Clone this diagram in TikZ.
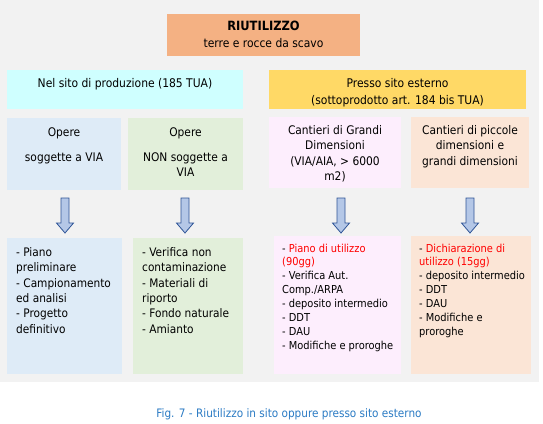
\documentclass[tikz,border=0pt]{standalone}
\usepackage{fontspec}
\setmainfont{DejaVu Sans Condensed}
\usetikzlibrary{calc}
\definecolor{bggray}{HTML}{F2F2F2}
\definecolor{topfill}{HTML}{F4B183}
\definecolor{cyanfill}{HTML}{CFFFFF}
\definecolor{yellowfill}{HTML}{FFD966}
\definecolor{bluefill}{HTML}{DEEBF7}
\definecolor{greenfill}{HTML}{E2EFDA}
\definecolor{pinkfill}{HTML}{FDEEFD}
\definecolor{peachfill}{HTML}{FBE5D6}
\definecolor{arrowfill}{HTML}{B4C7E7}
\definecolor{arrowline}{HTML}{2F5597}
\definecolor{captionblue}{HTML}{2B7BC4}
\definecolor{redtext}{HTML}{FF0000}
\begin{document}
\begin{tikzpicture}[x=1bp,y=-1bp,
  box/.style={rectangle, draw=none, inner sep=0pt, anchor=north west},
  hdrtext/.style={inner sep=0pt, anchor=north, align=center, font=\fontsize{12}{17}\selectfont},
  midtext/.style={inner sep=0pt, anchor=north, align=center, font=\fontsize{11.9}{15.2}\selectfont},
  listtext/.style={inner sep=0pt, anchor=north west, align=left, font=\fontsize{11.8}{15.5}\selectfont},
  listtextb/.style={inner sep=0pt, anchor=north west, align=left, font=\fontsize{11}{14}\selectfont},
  blockarrow/.style={fill=arrowfill, draw=arrowline, line width=0.8bp, line join=miter}
]
\useasboundingbox (0,0) rectangle (543,423);
\fill[white] (0,0) rectangle (543,423);
\fill[bggray] (0,0) rectangle (539,382);

% boxes
\node[box, fill=topfill, minimum width=193bp, minimum height=42bp] (top) at (167,14) {};
\node[box, fill=cyanfill, minimum width=236bp, minimum height=39bp] (hl) at (7,70) {};
\node[box, fill=yellowfill, minimum width=257bp, minimum height=39bp] (hr) at (269,70) {};
\node[box, fill=bluefill, minimum width=114bp, minimum height=72bp] (b1) at (7,118) {};
\node[box, fill=greenfill, minimum width=115bp, minimum height=72bp] (b2) at (128,118) {};
\node[box, fill=pinkfill, minimum width=132bp, minimum height=71bp] (b3) at (269,117) {};
\node[box, fill=peachfill, minimum width=118bp, minimum height=71bp] (b4) at (411,117) {};
\node[box, fill=bluefill, minimum width=115bp, minimum height=136bp] (c1) at (7,238) {};
\node[box, fill=greenfill, minimum width=110bp, minimum height=136bp] (c2) at (133,238) {};
\node[box, fill=pinkfill, minimum width=127bp, minimum height=138bp] (c3) at (274,236) {};
\node[box, fill=peachfill, minimum width=120bp, minimum height=138bp] (c4) at (411,236) {};

% texts
\node[hdrtext] (toptxt) at (263.5,20.5) {{\fontsize{12.8}{17}\selectfont\textbf{RIUTILIZZO}}\\terre e rocce da scavo};
\node[hdrtext] (hltxt) at (125,78) {Nel sito di produzione (185 TUA)};
\node[hdrtext] (hrtxt) at (397.5,78) {Presso sito esterno\\(sottoprodotto art. 184 bis TUA)};
\node[midtext] (b1txt) at (64,127.5) {Opere\\[9.8bp]soggette a VIA};
\node[midtext] (b2txt) at (185.5,127.5) {Opere\\[9.8bp]NON soggette a\\VIA};
\node[midtext] (b3txt) at (335,125.5) {Cantieri di Grandi\\Dimensioni\\(VIA/AIA, > 6000\\m2)};
\node[midtext] (b4txt) at (470,125.5) {Cantieri di piccole\\dimensioni e\\grandi dimensioni};

\node[listtext] (c1txt) at (16,247) {- Piano\\preliminare\\- Campionamento\\ed analisi\\- Progetto\\definitivo};
\node[listtext] (c2txt) at (142,247) {- Verifica non\\contaminazione\\- Materiali di\\riporto\\- Fondo naturale\\- Amianto};
\node[listtextb] (c3txt) at (282,243.5) {- \textcolor{redtext}{Piano di utilizzo}\\\textcolor{redtext}{(90gg)}\\- Verifica Aut.\\Comp./ARPA\\- deposito intermedio\\- DDT\\- DAU\\- Modifiche e proroghe};
\node[listtextb] (c4txt) at (419,243.5) {- \textcolor{redtext}{Dichiarazione di}\\\textcolor{redtext}{utilizzo (15gg)}\\- deposito intermedio\\- DDT\\- DAU\\- Modifiche e\\proroghe};

% block arrows
\coordinate (a1) at (65,198);
\coordinate (a2) at (185,198);
\coordinate (a3) at (341,198);
\coordinate (a4) at (470,198);
\foreach \a in {a1,a2,a3,a4}{
  \draw[blockarrow] (\a) ++(-4,0) -- ++(8,0) -- ++(0,25) -- ++(4.5,0) -- ++(-8.5,10) -- ++(-8.5,-10) -- ++(4.5,0) -- cycle;
}

\node[inner sep=0pt, text=captionblue, font=\fontsize{11.7}{14}\selectfont] (caption) at (289,414) {Fig. 7 - Riutilizzo in sito oppure presso sito esterno};
\end{tikzpicture}
\end{document}
